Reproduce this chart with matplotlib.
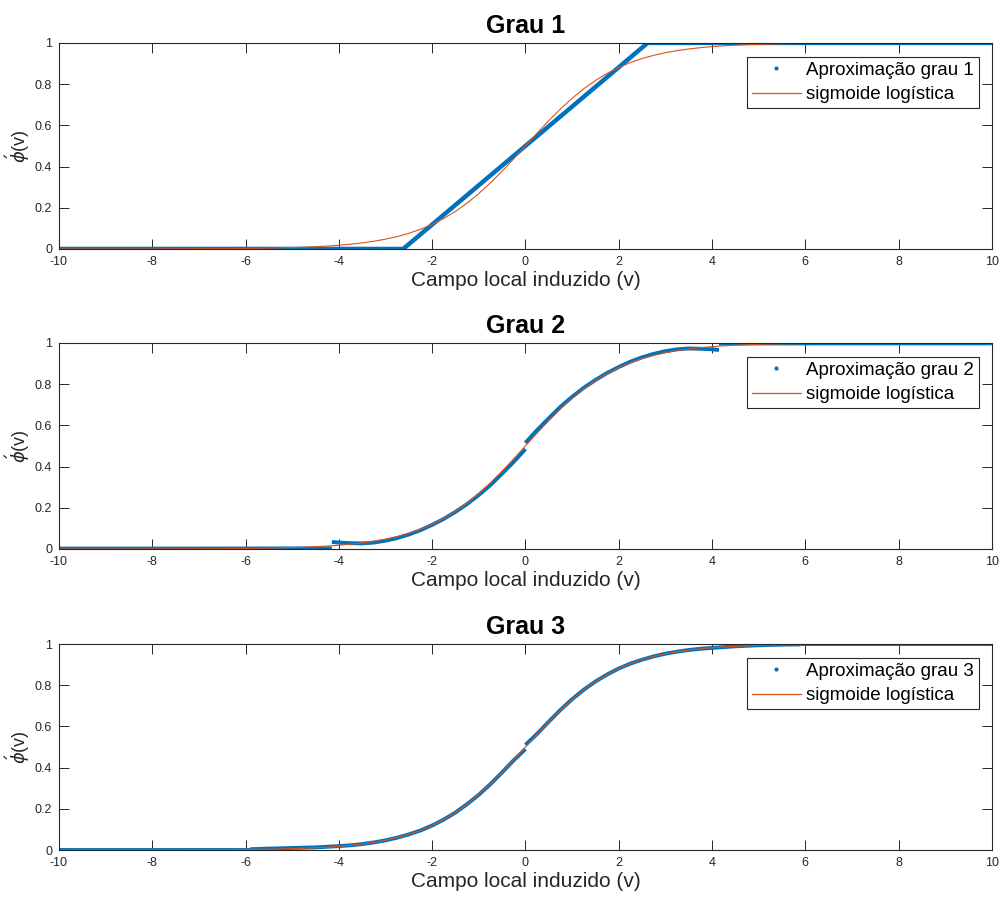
import matplotlib.pyplot as plt
from matplotlib.lines import Line2D

plt.rcParams['font.family'] = ['Liberation Sans', 'DejaVu Sans']
plt.rcParams['axes.unicode_minus'] = False

BLUE = '#0072BD'
ORANGE = '#D95319'
GRAY = '#262626'

# sigmoide logística
sig_x = [-10, -9.5, -9, -8.5, -8, -7.5, -7, -6.5, -6, -5.5,
         -5, -4.75, -4.5, -4.25, -4, -3.75, -3.5, -3.25, -3, -2.75,
         -2.5, -2.25, -2, -1.75, -1.5, -1.25, -1, -0.75, -0.5, -0.25,
         0, 0.25, 0.5, 0.75, 1, 1.25, 1.5, 1.75, 2, 2.25,
         2.5, 2.75, 3, 3.25, 3.5, 3.75, 4, 4.25, 4.5, 4.75,
         5, 5.5, 6, 6.5, 7, 7.5, 8, 8.5, 9, 9.5, 10]
sig_y = [0.0000, 0.0001, 0.0001, 0.0002, 0.0003, 0.0006, 0.0009, 0.0015, 0.0025, 0.0041,
         0.0067, 0.0086, 0.0110, 0.0141, 0.0180, 0.0230, 0.0293, 0.0373, 0.0474, 0.0601,
         0.0759, 0.0953, 0.1192, 0.1480, 0.1824, 0.2227, 0.2689, 0.3208, 0.3775, 0.4378,
         0.5000, 0.5622, 0.6225, 0.6792, 0.7311, 0.7773, 0.8176, 0.8520, 0.8808, 0.9047,
         0.9241, 0.9399, 0.9526, 0.9627, 0.9707, 0.9770, 0.9820, 0.9859, 0.9890, 0.9914,
         0.9933, 0.9959, 0.9975, 0.9985, 0.9991, 0.9994, 0.9997, 0.9998, 0.9999, 0.9999, 1.0000]

# aproximação grau 1
g1_segs = [
    ([-10, -2.62, 2.62, 10], [0.0, 0.0, 1.0, 1.0]),
]

# aproximação grau 2 (quatro trechos)
g2_segs = [
    ([-10, -7, -4.15], [0.002, 0.002, 0.003]),
    ([-4.15, -4.0, -3.75, -3.5, -3.25, -3.0, -2.75, -2.5, -2.25, -2.0,
      -1.75, -1.5, -1.25, -1.0, -0.75, -0.5, -0.25, 0.0],
     [0.034, 0.031, 0.028, 0.027, 0.031, 0.040, 0.053, 0.070, 0.091, 0.117,
      0.146, 0.180, 0.218, 0.262, 0.310, 0.366, 0.423, 0.485]),
    ([0.0, 0.25, 0.5, 0.75, 1.0, 1.25, 1.5, 1.75, 2.0, 2.25,
      2.5, 2.75, 3.0, 3.25, 3.5, 3.75, 4.0, 4.15],
     [0.515, 0.577, 0.634, 0.690, 0.738, 0.782, 0.820, 0.854, 0.883, 0.909,
      0.930, 0.947, 0.960, 0.969, 0.973, 0.972, 0.969, 0.966]),
    ([4.15, 7, 10], [0.997, 0.998, 0.998]),
]

# aproximação grau 3
g3_segs = [
    ([-10, -8, -5.9], [0.002, 0.002, 0.002]),
    ([-5.9, -5.5, -5.0, -4.5, -4.0, -3.75, -3.5, -3.25, -3.0, -2.75,
      -2.5, -2.25, -2.0, -1.75, -1.5, -1.25, -1.0, -0.75, -0.5, -0.25, 0.0],
     [0.004, 0.007, 0.010, 0.013, 0.019, 0.023, 0.029, 0.037, 0.047, 0.060,
      0.076, 0.095, 0.119, 0.148, 0.182, 0.223, 0.268, 0.320, 0.377, 0.436, 0.490]),
    ([0.0, 0.25, 0.5, 0.75, 1.0, 1.25, 1.5, 1.75, 2.0, 2.25,
      2.5, 2.75, 3.0, 3.25, 3.5, 3.75, 4.0, 4.5, 5.0, 5.5, 5.9],
     [0.510, 0.564, 0.623, 0.680, 0.732, 0.778, 0.818, 0.852, 0.881, 0.905,
      0.924, 0.940, 0.953, 0.963, 0.971, 0.977, 0.981, 0.989, 0.994, 0.997, 0.998]),
    ([5.9, 8, 10], [0.999, 0.999, 0.999]),
]

titles = ['Grau 1', 'Grau 2', 'Grau 3']
labels = ['Aproximação grau 1', 'Aproximação grau 2', 'Aproximação grau 3']
all_segs = [g1_segs, g2_segs, g3_segs]
blue_lw = [3.2, 2.8, 2.8]

fig = plt.figure(figsize=(10.01, 9.02), dpi=100)
bottoms = [0.724, 0.3914, 0.0576]

for i in range(3):
    ax = fig.add_axes([0.0589, bottoms[i], 0.932, 0.2284])
    for sx, sy in all_segs[i]:
        ax.plot(sx, sy, color=BLUE, lw=blue_lw[i], solid_capstyle='butt')
    ax.plot(sig_x, sig_y, color=ORANGE, lw=0.8)

    ax.set_xlim(-10, 10)
    ax.set_ylim(0, 1)
    ax.set_xticks(range(-10, 11, 2))
    ax.set_yticks([0, 0.2, 0.4, 0.6, 0.8, 1])
    ax.set_yticklabels(['0', '0.2', '0.4', '0.6', '0.8', '1'])
    ax.tick_params(direction='in', length=7, width=0.7, colors=GRAY,
                   labelsize=9, top=True, right=True, pad=5)
    for sp in ax.spines.values():
        sp.set_color(GRAY)
        sp.set_linewidth(0.8)

    ax.set_title(titles[i], fontsize=18, fontweight='bold', pad=7)
    ax.set_xlabel('Campo local induzido (v)', fontsize=15, color=GRAY, labelpad=2)
    ax.set_ylabel(r'$\acute{\phi}$(v)', fontsize=13, color=GRAY, labelpad=2)

    handles = [
        Line2D([], [], color=BLUE, marker='.', markersize=4, linestyle='none'),
        Line2D([], [], color=ORANGE, lw=0.9),
    ]
    leg = ax.legend(handles, [labels[i], 'sigmoide logística'],
                    loc='upper right', bbox_to_anchor=(0.986, 0.932),
                    fontsize=13.5, fancybox=False, framealpha=1,
                    edgecolor=GRAY, borderpad=0.25, labelspacing=0.4,
                    handlelength=2.6, handletextpad=0.3, borderaxespad=0)
    leg.get_frame().set_linewidth(0.8)

fig.savefig('out.png', dpi=100)
